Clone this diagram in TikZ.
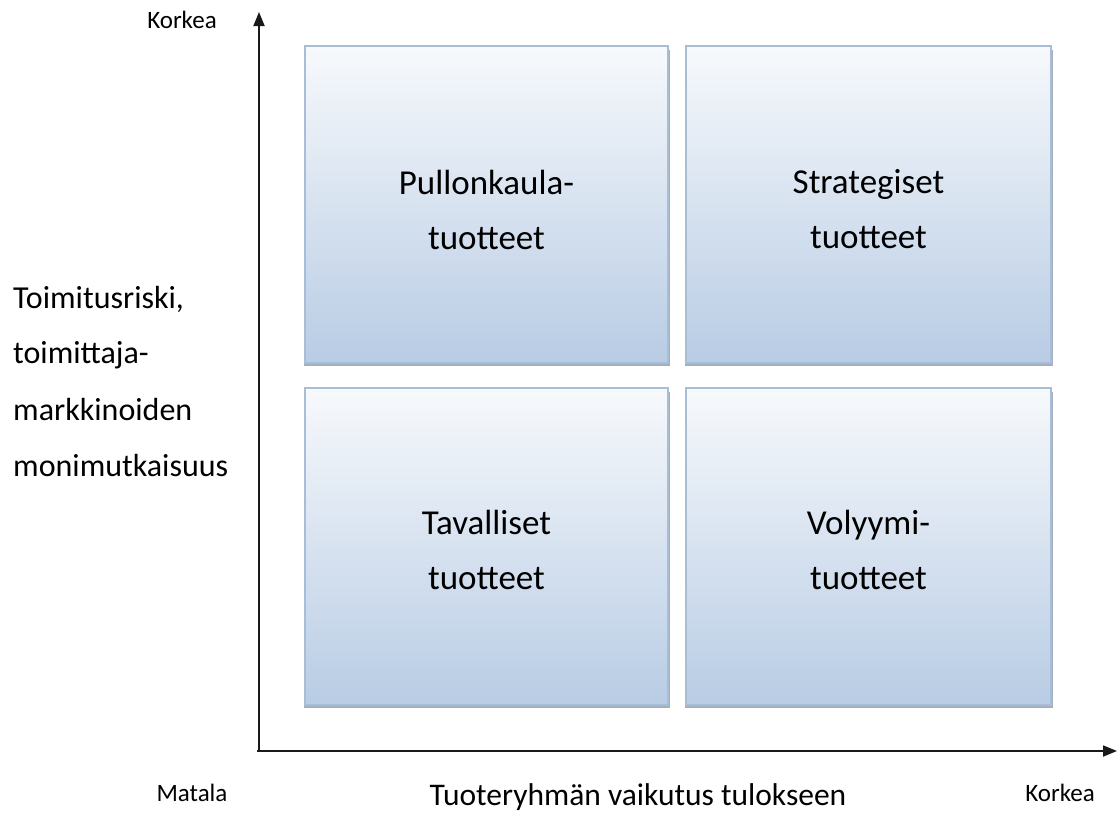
\documentclass[tikz,border=0pt]{standalone}
\usepackage{fontspec}
\setmainfont{Carlito}
\usetikzlibrary{arrows.meta}
\definecolor{boxtop}{RGB}{247,249,252}
\definecolor{boxbottom}{RGB}{184,204,228}
\definecolor{boxedge}{RGB}{168,189,214}
\definecolor{boxshadow}{RGB}{140,155,178}
\tikzset{
  quadtext/.style={align=center, font=\fontsize{35}{55}\selectfont, text=black},
  axis/.style={line width=1.8pt, draw=black!90, -{Triangle[length=14pt,width=11pt]}},
  endlabel/.style={font=\fontsize{25}{30}\selectfont},
}
\newcommand{\quadbox}[5]{%
  % #1 name, #2 x0, #3 y0, #4 x1, #5 y1
  \fill[boxshadow, opacity=0.8] (#2-1.5,#3+4) rectangle (#4+1.5,#5+3);
  \shade[top color=boxtop, bottom color=boxbottom] (#2,#3) rectangle (#4,#5);
  \draw[boxedge, line width=1.2pt] (#2,#3) rectangle (#4,#5);
  \coordinate (#1) at ({(#2+#4)/2},{(#3+#5)/2});
}
\begin{document}
\begin{tikzpicture}[x=1pt,y=-1pt]
  \useasboundingbox (0,0) rectangle (1118,814);

  % four quadrants
  \quadbox{tl}{305}{46}{668}{363}
  \quadbox{tr}{686}{46}{1051}{363}
  \quadbox{bl}{305}{388}{668}{705}
  \quadbox{br}{686}{388}{1051}{705}

  \node[quadtext] (tlt) at ([yshift=-5pt]tl) {Pullonkaula-\\tuotteet};
  \node[quadtext] (trt) at ([yshift=-5pt]tr) {Strategiset\\tuotteet};
  \node[quadtext] (blt) at ([yshift=-3pt]bl) {Tavalliset\\tuotteet};
  \node[quadtext] (brt) at ([yshift=-3pt]br) {Volyymi-\\tuotteet};

  % axes
  \coordinate (origin) at (259,751);
  \coordinate (ytop) at (259,12);
  \coordinate (xend) at (1117,751);
  \draw[axis] ([xshift=-2pt]origin) -- (xend);
  \draw[axis] ([yshift=-1pt]origin) -- (ytop);

  % axis labels
  \node[endlabel] (yhigh) at (182,20) {Korkea};
  \node[endlabel] (xlow) at (192,793) {Matala};
  \node[endlabel] (xhigh) at (1060,793) {Korkea};
  \node[font=\fontsize{31.5}{40}\selectfont, inner ysep=1pt] (xlabel) at (638,797) {Tuoteryhmän vaikutus tulokseen};
  \node[anchor=west, align=left, inner sep=0pt, font=\fontsize{32}{56}\selectfont] (ylabel) at (13,381)
    {Toimitusriski,\\toimittaja-\\markkinoiden\\monimutkaisuus};
\end{tikzpicture}
\end{document}
